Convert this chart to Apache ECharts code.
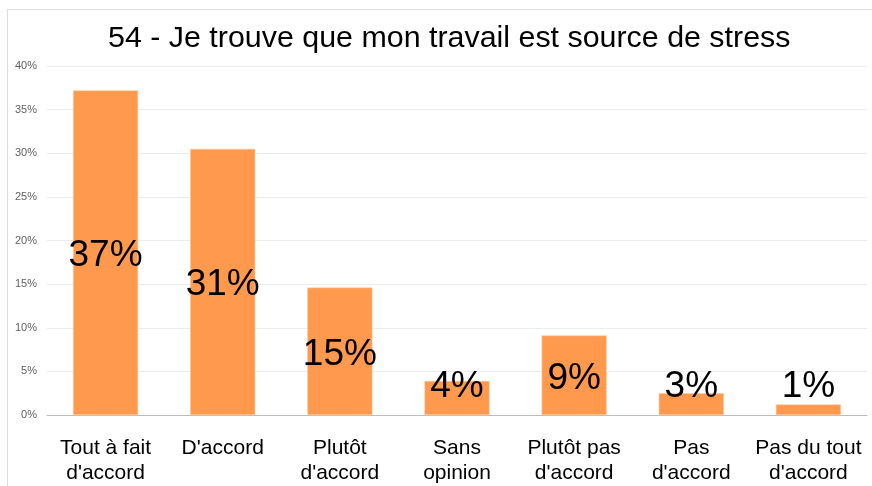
<!DOCTYPE html>
<html>
<head>
<meta charset="utf-8">
<script src="https://cdn.jsdelivr.net/npm/echarts@6/dist/echarts.min.js"></script>
<style>
	html, body { margin: 0; padding: 0; background: #fff; }
	#chart { width: 872px; height: 486px; }
</style>
</head>
<body>
<div id="chart"></div>
<script>
var titleText = "54 - Je trouve que mon travail est source de stress";

var categories = [
	"Tout à fait\nd'accord", "D'accord", "Plutôt\nd'accord", "Sans\nopinion",
	"Plutôt pas\nd'accord", "Pas\nd'accord", "Pas du tout\nd'accord"
];

// percent of answers
var values = [37.2, 30.5, 14.6, 3.9, 9.1, 2.5, 1.2];

var yTicks = { min: 0, max: 40, step: 5 };

var barColor = '#ff994d';

function initChart() {
	var myChart = echarts.init(document.getElementById('chart'));

	// short bars can't hold the label in their middle: push it up a bit
	var data = values.map(function(v) {
		if (v < 6) {
			return {
				value: v,
				label: { position: 'insideBottom', distance: 10, offset: [0, 0] }
			};
		}
		return v;
	});

	var option = {
		backgroundColor: '#fff',
		animation: false,
		graphic: [{
			type: 'rect',
			shape: { x: 7.5, y: 9.5, width: 900, height: 500 },
			style: { fill: 'none', stroke: '#dcdcdc', lineWidth: 1 },
			silent: true
		}],
		title: {
			text: titleText,
			left: 103,
			top: 19,
			textStyle: {
				fontFamily: 'Liberation Sans',
				fontSize: 30.4,
				fontWeight: 'normal',
				color: '#000'
			}
		},
		grid: {
			left: 47,
			right: 5,
			top: 66,
			bottom: 71
		},
		xAxis: {
			type: 'category',
			data: categories,
			axisLine: { lineStyle: { color: '#bdbdbd', width: 1 } },
			axisTick: { show: false },
			axisLabel: {
				interval: 0,
				margin: 21,
				fontFamily: 'Liberation Sans',
				fontSize: 21,
				lineHeight: 25,
				color: '#000'
			}
		},
		yAxis: {
			type: 'value',
			min: yTicks.min,
			max: yTicks.max,
			interval: yTicks.step,
			axisLine: { show: false },
			axisTick: { show: false },
			splitLine: { lineStyle: { color: '#ececec', width: 1 } },
			axisLabel: {
				margin: 10,
				fontFamily: 'Liberation Sans',
				fontSize: 11,
				color: '#5f5f5f',
				formatter: '{value}%'
			}
		},
		series: [{
			type: 'bar',
			data: data,
			barWidth: 65,
			itemStyle: {
				color: barColor,
				borderColor: '#ffc9a0',
				borderWidth: 0.5
			},
			label: {
				show: true,
				position: 'inside',
				offset: [0, 3],
				fontFamily: 'Liberation Sans',
				fontSize: 37,
				color: '#000',
				formatter: function(p) {
					return Math.round(p.value) + '%';
				}
			}
		}]
	};

	myChart.setOption(option);
	return myChart;
}

initChart();
</script>
</body>
</html>
